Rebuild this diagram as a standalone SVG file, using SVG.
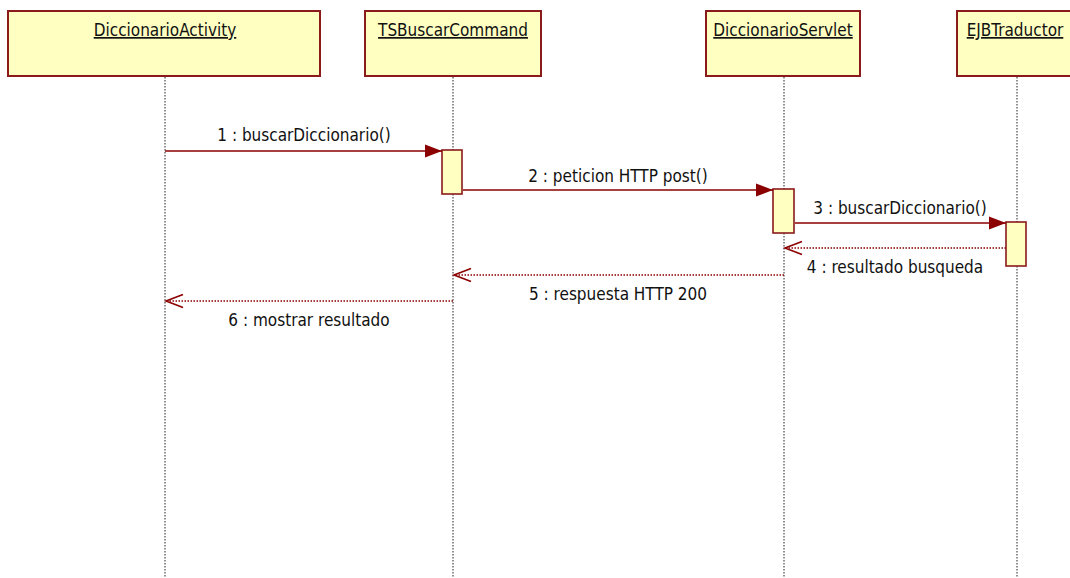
<svg xmlns="http://www.w3.org/2000/svg" width="1070" height="578" viewBox="0 0 1070 578">
<style>
.box{fill:#FFFFC2;stroke:#8B1A1A;stroke-width:2}
.act{fill:#FFFFC2;stroke:#8B1A1A;stroke-width:1.6}
.life{stroke:#222;stroke-width:1;stroke-dasharray:1.5,1.5;fill:none}
.name{font-family:"DejaVu Sans Condensed","DejaVu Sans",sans-serif;font-size:17px;fill:#111;text-anchor:middle;text-decoration:underline}
.lbl{font-family:"DejaVu Sans Condensed","DejaVu Sans",sans-serif;font-size:17px;fill:#111;text-anchor:middle}
.call{stroke:#8B0000;stroke-width:1.6;fill:none;marker-end:url(#filled)}
.ret{stroke:#8B0000;stroke-width:1.6;fill:none;stroke-dasharray:1.5,1.5;marker-end:url(#open)}
</style>
<defs>
<marker id="filled" markerUnits="userSpaceOnUse" markerWidth="18" markerHeight="14" refX="17" refY="6.5" orient="auto" overflow="visible">
<path d="M0,0 L17,6.5 L0,13 Z" fill="#8B0000"/>
</marker>
<marker id="open" markerUnits="userSpaceOnUse" markerWidth="18" markerHeight="14" refX="17" refY="6.5" orient="auto" overflow="visible">
<path d="M0,0 L17,6.5 L0,13" fill="none" stroke="#8B0000" stroke-width="1.6"/>
</marker>
</defs>
<rect width="1070" height="578" fill="#fff"/>
<g id="DiccionarioActivity">
<line class="life" x1="165" y1="77" x2="165" y2="578"/>
<rect class="box" x="8" y="11" width="312" height="65"/>
<text class="name" x="165" y="36">DiccionarioActivity</text>
</g>
<g id="TSBuscarCommand">
<line class="life" x1="453" y1="77" x2="453" y2="578"/>
<rect class="box" x="365" y="11" width="176" height="65"/>
<text class="name" x="453" y="36">TSBuscarCommand</text>
<rect class="act" x="442" y="150" width="20" height="44"/>
</g>
<g id="DiccionarioServlet">
<line class="life" x1="784" y1="77" x2="784" y2="578"/>
<rect class="box" x="706" y="11" width="154" height="65"/>
<text class="name" x="783" y="36">DiccionarioServlet</text>
<rect class="act" x="773" y="189" width="21" height="44"/>
</g>
<g id="EJBTraductor">
<line class="life" x1="1017" y1="77" x2="1017" y2="578"/>
<rect class="box" x="957" y="11" width="130" height="65"/>
<text class="name" x="1015" y="36">EJBTraductor</text>
<rect class="act" x="1006" y="222" width="20" height="44"/>
</g>
<g id="connectors">
<line class="call" x1="165" y1="151" x2="442" y2="151"/>
<text class="lbl" x="304" y="141">1 : buscarDiccionario()</text>
<line class="call" x1="463" y1="190" x2="773" y2="190"/>
<text class="lbl" x="618" y="182">2 : peticion HTTP post()</text>
<line class="call" x1="795" y1="223" x2="1006" y2="223"/>
<text class="lbl" x="900" y="214">3 : buscarDiccionario()</text>
<line class="ret" x1="1006" y1="248" x2="785" y2="248"/>
<text class="lbl" x="895" y="273">4 : resultado busqueda</text>
<line class="ret" x1="784" y1="275" x2="454" y2="275"/>
<text class="lbl" x="618" y="300">5 : respuesta HTTP 200</text>
<line class="ret" x1="453" y1="301" x2="166" y2="301"/>
<text class="lbl" x="309" y="326">6 : mostrar resultado</text>
</g>
</svg>
